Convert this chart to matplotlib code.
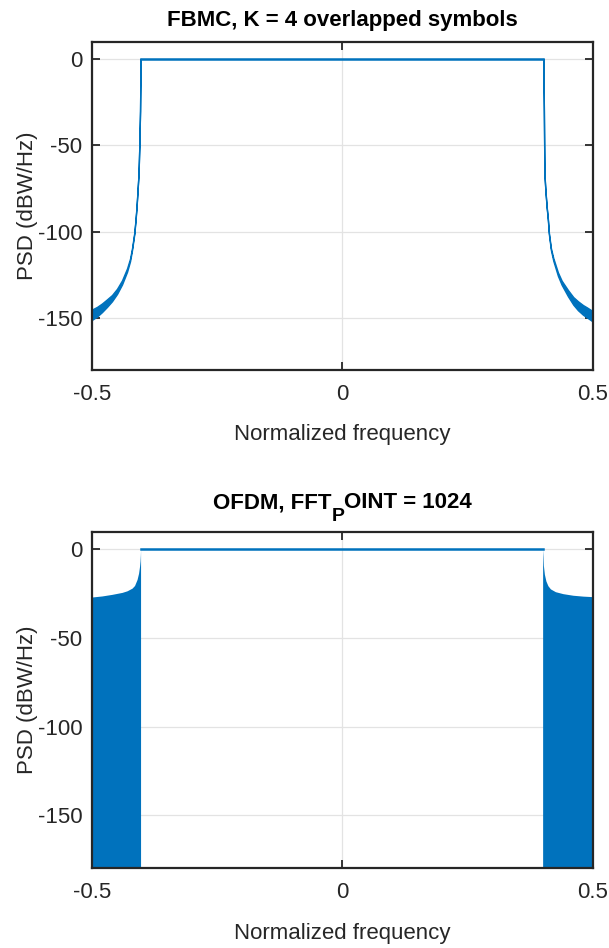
import numpy as np
import matplotlib
matplotlib.use('Agg')
import matplotlib.pyplot as plt

plt.rcParams['font.family'] = ['Liberation Sans', 'DejaVu Sans']

blue = '#0072BD'
dark = '#262626'

# FBMC: passband and roll-off band (upper / lower edge)
fbmc_pass_f = [-0.403, 0.401]
fbmc_pass_db = [0.0, 0.0]
fbmc_left_f = [-0.5, -0.49, -0.48, -0.47, -0.46, -0.45, -0.44, -0.43, -0.424, -0.42,
               -0.4155, -0.413, -0.411, -0.409, -0.407, -0.4055, -0.404, -0.403]
fbmc_left_hi = [-145.0, -143.5, -141.5, -139.1, -136.6, -133.0, -128.1, -121.2, -115.5, -109.4,
                -100.4, -92.6, -85.2, -75.8, -66.0, -50.6, -30.0, 0.0]
fbmc_left_lo = [-151.0, -149.1, -146.5, -143.5, -140.2, -136.0, -130.5, -123.2, -117.1, -110.6,
                -101.4, -93.4, -85.8, -76.2, -66.4, -50.8, -30.0, 0.0]
fbmc_right_f = [0.401, 0.402, 0.403, 0.405, 0.4075, 0.41, 0.412, 0.416, 0.4208, 0.43,
                0.4375, 0.45, 0.4607, 0.47, 0.48, 0.487, 0.5]
fbmc_right_hi = [0.0, -30.0, -65.8, -75.8, -85.2, -92.6, -100.5, -109.4, -115.2, -123.5,
                 -128.3, -133.7, -137.8, -140.2, -142.4, -143.6, -146.0]
fbmc_right_lo = [0.0, -30.0, -66.2, -76.2, -85.8, -93.4, -101.5, -110.6, -116.8, -125.5,
                 -130.7, -137.3, -142.2, -145.4, -148.0, -149.4, -152.0]

# OFDM: passband and out-of-band envelope
ofdm_pass_f = [-0.403, 0.3995]
ofdm_pass_db = [0.0, 0.0]
ofdm_left_f = [-0.5, -0.48, -0.46, -0.44, -0.43, -0.42, -0.415, -0.41, -0.407, -0.405,
               -0.404, -0.4033, -0.403]
ofdm_left_db = [-26.9, -26.3, -25.4, -24.3, -23.4, -21.9, -20.4, -17.0, -13.5, -9.5,
                -6.5, -3.0, 0.0]
ofdm_right_f = [0.3995, 0.4003, 0.401, 0.403, 0.406, 0.41, 0.415, 0.425, 0.44, 0.46,
                0.48, 0.5]
ofdm_right_db = [0.0, -4.0, -9.0, -14.0, -17.8, -20.5, -22.3, -23.9, -25.0, -25.9,
                 -26.4, -26.7]

fig = plt.figure(figsize=(6.09, 9.48), dpi=100)
ax1 = fig.add_axes([0.151, 0.6097, 0.8227, 0.3463])
ax2 = fig.add_axes([0.151, 0.0841, 0.8227, 0.3551])

def style(ax):
    ax.set_xlim(-0.5, 0.5)
    ax.set_ylim(-180, 10)
    ax.set_xticks([-0.5, 0, 0.5])
    ax.set_xticklabels(['-0.5', '0', '0.5'])
    ax.set_yticks([-150, -100, -50, 0])
    ax.set_yticklabels(['-150', '-100', '-50', '0'])
    ax.grid(True, color='#e3e3e3', linewidth=0.9)
    ax.set_axisbelow(True)
    ax.tick_params(direction='in', top=True, right=True, length=6, width=1.3,
                   colors=dark, labelsize=16)
    ax.tick_params(axis='x', pad=10)
    ax.tick_params(axis='y', pad=7)
    for s in ax.spines.values():
        s.set_color(dark)
        s.set_linewidth(1.6)
    ax.set_xlabel('Normalized frequency', fontsize=16, color=dark, labelpad=14)
    ax.set_ylabel('PSD (dBW/Hz)', fontsize=16, color=dark, labelpad=0)

# top
ax1.plot(fbmc_pass_f, fbmc_pass_db, color=blue, lw=1.8)
ax1.fill_between(fbmc_left_f, fbmc_left_lo, fbmc_left_hi, color=blue, lw=1.0, edgecolor=blue)
ax1.fill_between(fbmc_right_f, fbmc_right_lo, fbmc_right_hi, color=blue, lw=1.0, edgecolor=blue)
style(ax1)
ax1.set_title('FBMC, K = 4 overlapped symbols', fontsize=16, fontweight='bold', pad=11)

# bottom
ax2.plot(ofdm_pass_f, ofdm_pass_db, color=blue, lw=1.8)
ax2.fill_between(ofdm_left_f, -180, ofdm_left_db, color=blue, lw=0)
ax2.fill_between(ofdm_right_f, -180, ofdm_right_db, color=blue, lw=0)
style(ax2)

# title with MATLAB-style subscript (FFT_POINT)
r = fig.canvas.get_renderer()
W, H = fig.bbox.width, fig.bbox.height
parts = [('OFDM, FFT', 16, 0), ('P', 14, 13), ('OINT = 1024', 16, 0)]
texts = []
for s, fs, dy in parts:
    t = fig.text(0, 1 - (508 + dy) / H, s, fontsize=fs, fontweight='bold', va='baseline', ha='left')
    texts.append(t)
widths = [t.get_window_extent(r).width for t in texts]
cx = (ax2.get_position().x0 + ax2.get_position().x1) / 2 * W
x = cx - sum(widths) / 2
for t, w in zip(texts, widths):
    t.set_x(x / W)
    x += w

fig.savefig('out.png', dpi=100)
